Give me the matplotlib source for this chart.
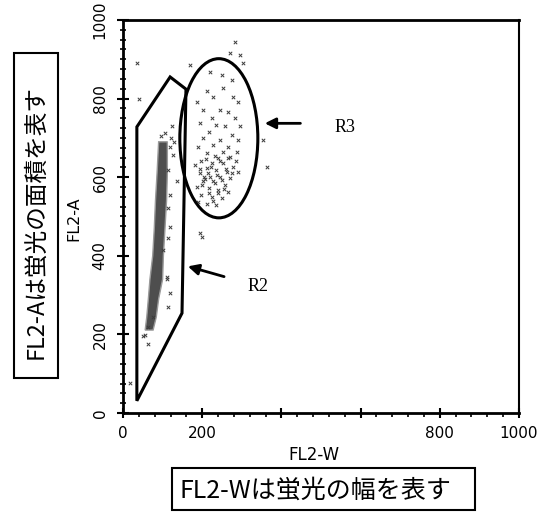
"""FL2-W vs FL2-A flow cytometry dot plot with R2 / R3 gates."""

import matplotlib
matplotlib.use("Agg")
import matplotlib.pyplot as plt
from matplotlib.patches import Ellipse, Polygon, Rectangle
from matplotlib.ticker import MultipleLocator

JP_FONT = ["Noto Sans CJK JP", "DejaVu Sans"]

# axis ticks
x_ticks = [0, 200, 400, 600, 800, 1000]
x_tick_labels = ["0", "200", "", "", "800", "1000"]
y_ticks = [0, 200, 400, 600, 800, 1000]
y_tick_labels = ["0", "200", "400", "600", "800", "1000"]

# dense singlet streak (outline, FL2-W / FL2-A units)
streak_w = [56, 60, 64, 68, 75, 79, 82, 86, 90, 112, 112, 110, 106, 102, 100, 90, 84, 76]
streak_a = [211, 244, 290, 340, 400, 470, 540, 610, 690, 690, 610, 540, 470, 400, 340, 290, 244, 211]

# scattered events around the streak
stray_w = [119, 127, 114, 136, 119, 114, 119, 114, 102, 110, 119, 114, 77, 64, 56,
           199, 51, 64, 18, 111, 194, 35, 40, 124, 169, 283, 295, 303, 270, 363, 354,
           95, 120, 105, 128]
stray_a = [678, 656, 618, 589, 555, 521, 474, 445, 415, 347, 305, 270, 245, 220, 198,
           449, 196, 175, 76, 341, 458, 890, 800, 730, 885, 944, 911, 890, 916, 627, 695,
           705, 700, 712, 690]

# events inside the R3 ellipse
r3_w = [220, 249, 274, 211, 253, 278, 186, 228, 291, 203, 245, 266, 224, 283, 194,
        236, 257, 295, 216, 274, 203, 245, 291, 228, 266, 190, 253, 287, 211, 241,
        270, 198, 224, 253, 278, 182, 211, 236, 262, 291, 194, 220, 245, 270, 203,
        232, 257, 186, 216, 241, 266, 198, 224, 249, 211, 236, 190,
        205, 215, 228, 238, 250, 260, 222, 245, 232, 210, 265, 200, 218, 255, 240,
        228, 275, 285, 195, 208]
r3_a = [868, 860, 847, 818, 826, 805, 792, 805, 792, 771, 771, 767, 750, 750, 738,
        733, 729, 729, 716, 707, 699, 695, 695, 682, 678, 678, 665, 665, 661, 648,
        652, 640, 635, 635, 627, 631, 623, 618, 614, 614, 610, 601, 601, 597, 589,
        584, 580, 576, 572, 567, 563, 555, 550, 546, 533, 529, 538,
        600, 610, 590, 605, 592, 620, 625, 640, 655, 645, 650, 580, 560, 570, 560,
        540, 610, 640, 620, 595]

# R2 gate polygon vertices
r2_w = [35, 35, 119, 159, 149]
r2_a = [31, 728, 855, 824, 254]

# R3 gate ellipse: centre, width, height
r3_center = (242, 699)
r3_size = (197, 405)

fig = plt.figure(figsize=(5.39, 5.12), dpi=100)
ax = fig.add_axes([0.2282, 0.1934, 0.7347, 0.7676])

ax.fill(streak_w, streak_a, color="#4e4e4e", lw=1.0, ec="#9a9a9a")
ax.scatter(stray_w, stray_a, s=6, color="#3c3c3c", marker="x", lw=0.7)
ax.scatter(r3_w, r3_a, s=6, color="#3c3c3c", marker="x", lw=0.7)

ax.add_patch(Polygon(list(zip(r2_w, r2_a)), closed=True, fill=False,
                     ec="black", lw=2.2, joinstyle="miter"))
ax.add_patch(Ellipse(r3_center, r3_size[0], r3_size[1], fill=False,
                     ec="black", lw=2.2))

# gate arrows and labels
arrow = dict(arrowstyle="-|>", color="black", lw=2, mutation_scale=16)
ax.annotate("", xy=(351, 737), xytext=(455, 737), arrowprops=arrow)
ax.text(535, 727, "R3", fontsize=13, family="Liberation Serif", va="center")
ax.annotate("", xy=(157, 375), xytext=(262, 345), arrowprops=arrow)
ax.text(314, 323, "R2", fontsize=13, family="Liberation Serif", va="center")

ax.set_xlim(0, 1000)
ax.set_ylim(0, 1000)
ax.set_xticks(x_ticks)
ax.set_xticklabels(x_tick_labels, fontsize=11)
ax.set_yticks(y_ticks)
ax.set_yticklabels(y_tick_labels, fontsize=11, rotation=90, va="center")
ax.xaxis.set_minor_locator(MultipleLocator(40))
ax.yaxis.set_minor_locator(MultipleLocator(25))
ax.tick_params(axis="x", which="major", direction="inout", length=7, width=1.5, pad=6)
ax.tick_params(axis="x", which="minor", direction="out", length=3, width=1.2)
ax.tick_params(axis="y", which="major", direction="inout", length=8, width=1.5, pad=7)
ax.tick_params(axis="y", which="minor", direction="inout", length=4, width=1.2)
for side in ["left", "bottom", "top"]:
    ax.spines[side].set_linewidth(2)
ax.spines["right"].set_linewidth(1.5)

fig.text(314 / 539, 1 - 455 / 512, "FL2-W", fontsize=12, ha="center", va="center")
fig.text(74 / 539, 1 - 219 / 512, "FL2-A", fontsize=11.5, ha="center", va="center",
         rotation=90)

# explanatory boxes
fig.patches.append(Rectangle((14 / 539, 1 - 378 / 512), 44 / 539, 325 / 512,
                             transform=fig.transFigure, fill=False, ec="black", lw=1.5))
fig.text(36 / 539, 1 - 222 / 512, "FL2-Aは蛍光の面積を表す", family=JP_FONT,
         fontsize=17, ha="center", va="center", rotation=90)
fig.patches.append(Rectangle((172 / 539, 1 - 510 / 512), 303 / 539, 42 / 512,
                             transform=fig.transFigure, fill=False, ec="black", lw=1.5))
fig.text(315 / 539, 1 - 491 / 512, "FL2-Wは蛍光の幅を表す", family=JP_FONT,
         fontsize=18, ha="center", va="center")

fig.savefig("out.png", dpi=100)
